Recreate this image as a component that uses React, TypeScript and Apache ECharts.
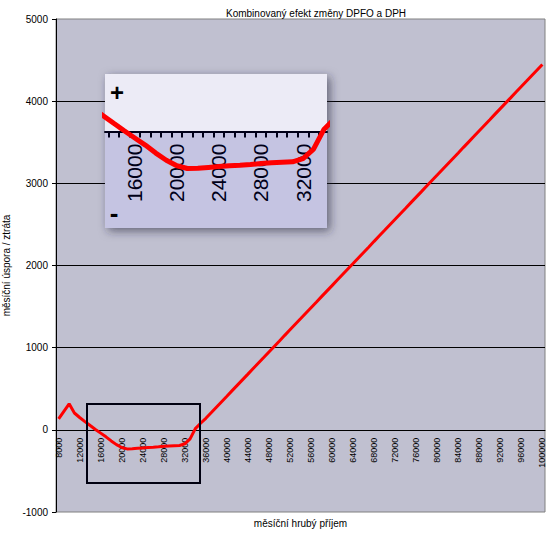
import React, { useEffect, useRef } from "react";
import * as echarts from "echarts";

const titleText = "Kombinovaný efekt změny DPFO a DPH";
const xAxisName = "měsíční hrubý příjem";
const yAxisName = "měsíční úspora / ztráta";

const categories = [
  "8000", "9000", "10000", "11000", "12000", "13000", "14000", "15000", "16000", "17000",
  "18000", "19000", "20000", "21000", "22000", "23000", "24000", "25000", "26000", "27000",
  "28000", "29000", "30000", "31000", "32000", "33000", "34000", "35000", "36000", "37000",
  "38000", "39000", "40000", "41000", "42000", "43000", "44000", "45000", "46000", "47000",
  "48000", "49000", "50000", "51000", "52000", "53000", "54000", "55000", "56000", "57000",
  "58000", "59000", "60000", "61000", "62000", "63000", "64000", "65000", "66000", "67000",
  "68000", "69000", "70000", "71000", "72000", "73000", "74000", "75000", "76000", "77000",
  "78000", "79000", "80000", "81000", "82000", "83000", "84000", "85000", "86000", "87000",
  "88000", "89000", "90000", "91000", "92000", "93000", "94000", "95000", "96000", "97000",
  "98000", "99000", "100000",
];

const values = [
  134, 225, 316, 205, 150, 100, 52, 5, -40, -85,
  -135, -180, -215, -232, -230, -225, -220, -215, -212, -207,
  -200, -196, -193, -190, -170, -110, 15, 80, 140, 207,
  275, 342, 409, 477, 544, 611, 678, 746, 813, 880,
  948, 1015, 1082, 1150, 1217, 1284, 1351, 1419, 1486, 1553,
  1621, 1688, 1755, 1823, 1890, 1957, 2024, 2092, 2159, 2226,
  2294, 2361, 2428, 2496, 2563, 2630, 2697, 2765, 2832, 2899,
  2967, 3034, 3101, 3169, 3236, 3303, 3370, 3438, 3505, 3572,
  3640, 3707, 3774, 3842, 3909, 3976, 4043, 4111, 4178, 4245,
  4313, 4380, 4447,
];

const insetTickValues = [
  13500, 14500, 15500, 16500, 17500, 18500, 19500, 20500, 21500, 22500, 23500,
  24500, 25500, 26500, 27500, 28500, 29500, 30500, 31500, 32500, 33500,
];
const insetLabelValues = [16000, 20000, 24000, 28000, 32000];

const FONT = "'Liberation Sans', Arial, sans-serif";

export default function App() {
  const ref = useRef<HTMLDivElement>(null);
  useEffect(() => {
    if (!ref.current) return;
    const chart = echarts.init(ref.current, null, { renderer: "svg" });
    const insetData = categories.map((c, i) => [Number(c), values[i]]);
    chart.setOption({
      animation: false,
      backgroundColor: "#ffffff",
      title: {
        text: titleText,
        left: 311,
        textAlign: "center",
        top: 3,
        textStyle: { fontSize: 10, fontWeight: "normal", color: "#000", fontFamily: FONT },
      },
      grid: [
        {
          left: 56, top: 19, width: 489, height: 493, outerBoundsMode: "none", containLabel: false,
          show: true, backgroundColor: "#c0c0d0", borderColor: "#808080", borderWidth: 1,
        },
        {
          left: 105, top: 74, width: 222, height: 154, z: 3, outerBoundsMode: "none", containLabel: false,
          show: true, backgroundColor: "#c5c4e2", borderWidth: 0,
          shadowBlur: 10, shadowColor: "rgba(40,40,60,0.6)", shadowOffsetX: 3, shadowOffsetY: 3,
        },
      ],
      xAxis: [
        {
          type: "category", gridIndex: 0, data: categories, boundaryGap: true,
          position: "bottom", offset: -82.2,
          axisLine: { onZero: false, lineStyle: { color: "#000", width: 1 } },
          axisTick: { interval: 0, length: 4, lineStyle: { color: "#000" } },
          axisLabel: { interval: 3, rotate: 90, fontSize: 9, margin: 8, color: "#000", fontFamily: FONT },
          splitLine: { show: false },
          name: xAxisName, nameLocation: "middle", nameGap: 89,
          nameTextStyle: { fontSize: 10, color: "#000", fontFamily: FONT },
        },
        {
          type: "value", gridIndex: 1, min: 13170, max: 34280, z: 5,
          position: "bottom", offset: -96.4,
          axisLine: { onZero: false, lineStyle: { color: "#000018", width: 2 } },
          axisTick: { customValues: insetTickValues, length: 6, lineStyle: { color: "#000018", width: 2 } },
          axisLabel: {
            customValues: insetLabelValues, rotate: 90, fontSize: 21, margin: 12,
            color: "#000018", fontFamily: FONT, formatter: (v: number) => String(v),
          },
          splitLine: { show: false },
        },
      ],
      yAxis: [
        {
          type: "value", gridIndex: 0, min: -1000, max: 5000, interval: 1000,
          axisLine: { show: true, lineStyle: { color: "#000", width: 1 } },
          axisTick: { show: true, length: 4, lineStyle: { color: "#000" } },
          axisLabel: { fontSize: 10, margin: 8, color: "#000", fontFamily: FONT, formatter: (v: number) => String(v) },
          splitLine: { show: true, showMinLine: false, showMaxLine: false, lineStyle: { color: "#000", width: 1 } },
          name: yAxisName, nameLocation: "middle", nameGap: 37,
          nameTextStyle: { fontSize: 10, color: "#000", fontFamily: FONT },
        },
        {
          type: "value", gridIndex: 1, min: -606, max: 362, show: false, z: 5,
          splitLine: { show: false },
        },
      ],
      series: [
        {
          type: "line", xAxisIndex: 0, yAxisIndex: 0, data: values,
          symbol: "none", lineStyle: { color: "#ff0000", width: 3 }, z: 2,
        },
        {
          type: "line", xAxisIndex: 1, yAxisIndex: 1, data: insetData, z: 5,
          symbol: "none", clip: true, lineStyle: { color: "#ff0000", width: 5 },
          markArea: {
            silent: true,
            z: 4,
            itemStyle: { color: "#ecebf6" },
            data: [[{ yAxis: 0 }, { yAxis: 362 }]],
          },
        },
      ],
      graphic: [
        {
          type: "rect", z: 10,
          shape: { x: 87, y: 404, width: 113, height: 79 },
          style: { fill: "none", stroke: "#000010", lineWidth: 2 },
        },
        {
          type: "text", z: 10, x: 117, y: 92,
          style: { text: "+", fontSize: 24, fontWeight: "bold", fill: "#000", align: "center", verticalAlign: "middle", fontFamily: FONT },
        },
        {
          type: "text", z: 10, x: 114, y: 213,
          style: { text: "-", fontSize: 26, fontWeight: "bold", fill: "#000", align: "center", verticalAlign: "middle", fontFamily: FONT },
        },
      ],
    });
    return () => chart.dispose();
  }, []);
  return <div ref={ref} style={{ position: "fixed", left: 0, top: 0, width: 549, height: 536 }} />;
}
